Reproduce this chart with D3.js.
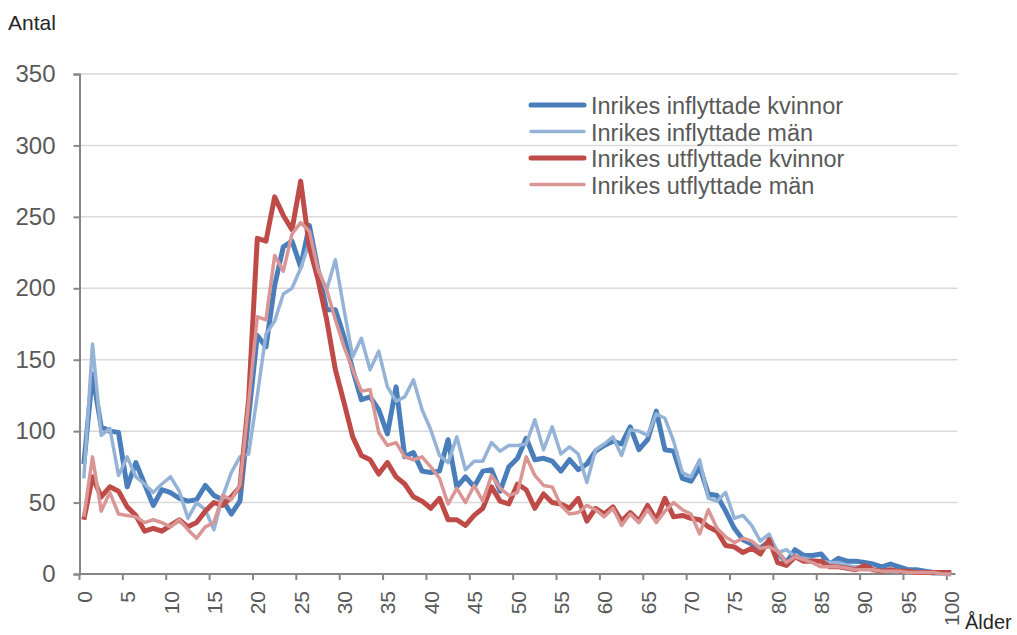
<!DOCTYPE html>
<html>
<head>
<meta charset="utf-8">
<script src="https://cdn.jsdelivr.net/npm/d3@7"></script>
<style>
  body { margin: 0; background: #fff; }
  svg { font-family: "Liberation Sans", Arial, sans-serif; }
</style>
</head>
<body>
<div id="chart-area"></div>
<script>
// ages 0..100
var ages = d3.range(0, 101);

var inflyttadeKvinnor = [77,140,103,100,99,61,78,63,48,59,57,53,51,52,62,55,52,42,51,110,
  167,159,202,229,233,215,244,213,185,185,166,143,122,124,115,98,131,82,85,72,
  71,72,94,61,68,61,72,73,58,75,81,95,80,81,79,72,80,73,77,86,
  90,93,91,103,87,94,114,87,86,67,65,75,56,55,44,32,24,21,18,23,
  15,8,17,13,13,14,7,11,9,9,8,7,5,7,5,3,3,2,1,1,0];

var inflyttadeMan = [67,161,97,102,69,82,68,63,57,63,68,58,39,50,45,31,54,71,82,84,
  125,168,177,196,200,214,232,213,199,220,185,152,165,143,156,131,121,124,136,115,
  101,83,78,96,73,79,79,92,86,90,90,91,108,87,103,84,89,84,64,87,
  91,96,83,101,100,97,112,109,93,71,68,80,53,51,57,39,41,34,23,28,
  15,17,12,11,10,9,8,8,6,5,5,3,2,2,1,1,1,1,0,0,0];

var utflyttadeKvinnor = [38,68,54,61,58,47,41,30,32,30,34,38,33,36,44,50,48,54,61,122,
  235,233,264,251,241,275,229,206,178,143,120,96,83,80,70,78,68,63,54,51,
  46,53,38,38,34,41,46,61,51,49,63,59,46,56,50,49,46,53,37,46,
  42,47,37,43,37,48,38,53,40,41,39,38,33,30,20,19,15,18,14,24,
  8,6,12,9,9,9,5,5,4,3,6,3,2,3,2,2,1,1,1,1,1];

var utflyttadeMan = [40,82,44,57,42,41,40,36,38,36,33,38,31,25,33,36,55,52,62,120,
  180,178,223,212,238,246,240,213,199,178,159,143,128,129,99,90,92,82,80,82,
  75,67,49,60,50,62,51,69,60,55,57,82,69,62,61,48,42,43,48,45,
  40,46,34,42,36,45,36,44,50,45,42,28,45,32,26,22,25,23,18,19,
  16,8,12,10,8,5,5,5,4,3,3,3,2,2,2,1,1,1,1,0,0];

var seriesNames = ["Inrikes inflyttade kvinnor", "Inrikes inflyttade män",
  "Inrikes utflyttade kvinnor", "Inrikes utflyttade män"];
var seriesValues = [inflyttadeKvinnor, inflyttadeMan, utflyttadeKvinnor, utflyttadeMan];
var seriesColors = ["#4a7ebb", "#95b3d7", "#be4b48", "#d99694"];
var seriesWidths = [5, 3.5, 5, 3.5];

var yTicks = [0, 50, 100, 150, 200, 250, 300, 350];
var xTickAges = ages.filter(a => a % 5 === 0);

var svg = d3.select("#chart-area").append("svg")
  .attr("width", 1017)
  .attr("height", 635);

var plotLeft = 79.5, plotRight = 955.5, plotTop = 74, plotBottom = 574;

var x = d3.scalePoint()
  .domain(ages)
  .range([plotLeft, plotRight])
  .padding(0.5);
var step = x.step();

var y = d3.scaleLinear()
  .domain([0, 350])
  .range([plotBottom, plotTop]);

// gridlines
svg.append("g")
  .selectAll("line")
  .data(yTicks.filter(d => d > 0))
  .join("line")
  .attr("x1", plotLeft)
  .attr("x2", plotRight + 2)
  .attr("y1", d => y(d))
  .attr("y2", d => y(d))
  .attr("stroke", "#d9d9d9")
  .attr("stroke-width", 1.5);

// y axis
var yAxis = svg.append("g")
  .attr("transform", "translate(" + plotLeft + ",0)")
  .call(d3.axisLeft(y).tickValues(yTicks).tickSize(6).tickPadding(18));
yAxis.select(".domain").attr("stroke", "#868686").attr("stroke-width", 2);
yAxis.selectAll(".tick line").attr("stroke", "#868686").attr("stroke-width", 2);
yAxis.selectAll(".tick text")
  .attr("fill", "#595959")
  .style("font-size", "24px")
  .style("font-family", "Liberation Sans, Arial, sans-serif");

// x axis
var xAxis = svg.append("g");
xAxis.append("line")
  .attr("x1", plotLeft).attr("x2", plotRight)
  .attr("y1", plotBottom).attr("y2", plotBottom)
  .attr("stroke", "#868686").attr("stroke-width", 2);
xAxis.selectAll("line.tick")
  .data(xTickAges)
  .join("line")
  .attr("class", "tick")
  .attr("x1", d => x(d) - step / 2)
  .attr("x2", d => x(d) - step / 2)
  .attr("y1", plotBottom)
  .attr("y2", plotBottom + 6)
  .attr("stroke", "#868686").attr("stroke-width", 2);
xAxis.selectAll("text")
  .data(xTickAges)
  .join("text")
  .attr("transform", d => "translate(" + (x(d) + 8) + "," + (plotBottom + 17) + ") rotate(-90)")
  .attr("text-anchor", "end")
  .attr("fill", "#595959")
  .style("font-size", "21px")
  .text(d => d);

// lines
var line = d3.line()
  .x((d, i) => x(ages[i]))
  .y(d => y(d));

seriesValues.forEach((vals, i) => {
  svg.append("path")
    .datum(vals)
    .attr("fill", "none")
    .attr("stroke", seriesColors[i])
    .attr("stroke-width", seriesWidths[i])
    .attr("stroke-linejoin", "round")
    .attr("d", line);
});

// legend
var legend = svg.append("g").attr("transform", "translate(530,105)");
seriesNames.forEach((name, i) => {
  var g = legend.append("g").attr("transform", "translate(0," + (i * 26.5) + ")");
  g.append("line")
    .attr("x1", 1).attr("x2", 54)
    .attr("y1", 0).attr("y2", 0)
    .attr("stroke", seriesColors[i])
    .attr("stroke-width", seriesWidths[i])
    .attr("stroke-linecap", "round");
  g.append("text")
    .attr("x", 61).attr("y", 9)
    .attr("fill", "#595959")
    .style("font-size", "23.5px")
    .text(name);
});

// axis titles
svg.append("text")
  .attr("x", 8).attr("y", 30)
  .attr("fill", "#262626")
  .style("font-size", "21px")
  .text("Antal");

svg.append("text")
  .attr("x", 965).attr("y", 629)
  .attr("fill", "#262626")
  .style("font-size", "20px")
  .text("Ålder");
</script>
</body>
</html>
